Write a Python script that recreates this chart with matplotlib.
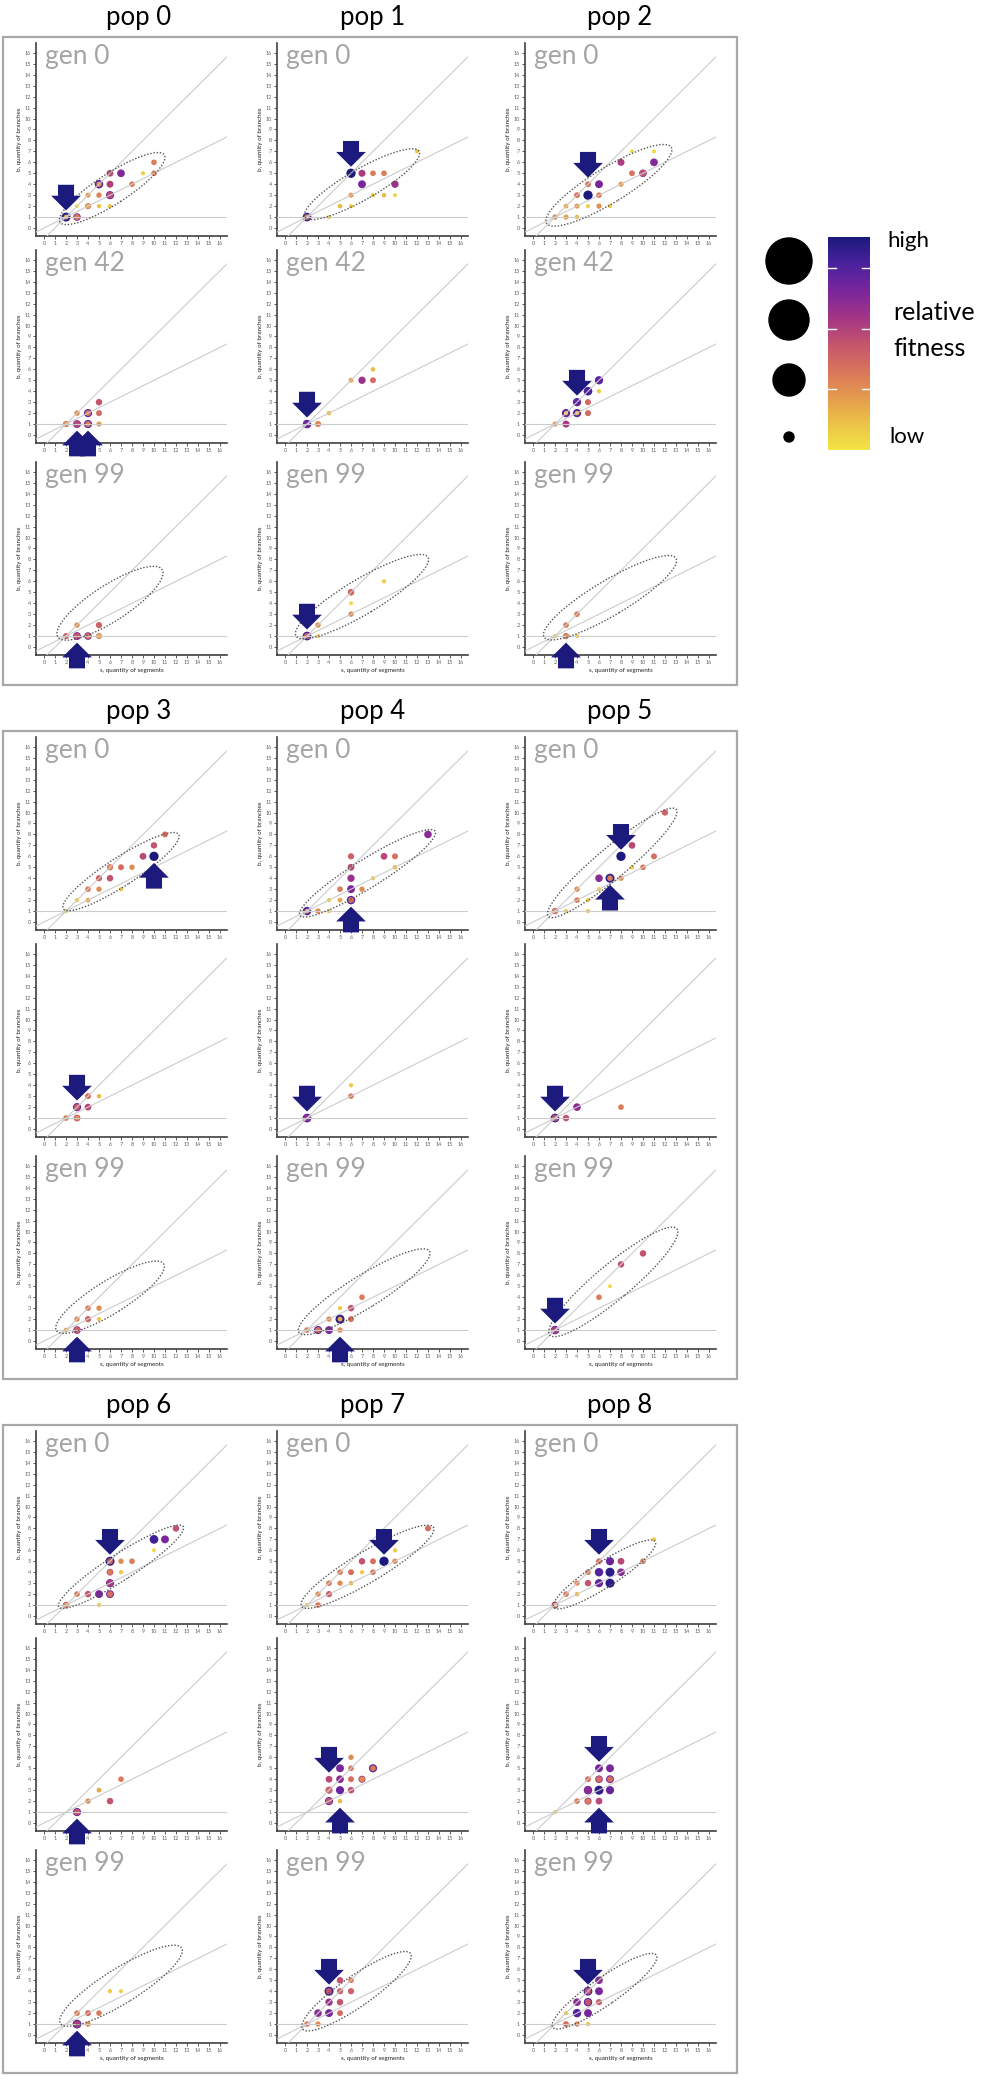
import numpy as np
import matplotlib
import matplotlib.pyplot as plt
from matplotlib.patches import Ellipse, Polygon, Rectangle, Circle
from matplotlib.colors import LinearSegmentedColormap

matplotlib.rcParams['font.family'] = ['Lato', 'DejaVu Sans']

W, H = 986, 2081

gens = [0, 42, 99]

# (s, b, relative fitness) for every individual, rows = gen 0 / 42 / 99
p0_g0 = [(2, 1, .95), (2, 1, .15), (3, 1, .7), (3, 1, .35), (3, 2, .05), (4, 2, .42), (4, 2, .2),
         (4, 3, .25), (5, 2, .12), (5, 3, .32), (5, 4, .85), (5, 4, .3), (6, 2, .1), (6, 3, .8),
         (6, 3, .55), (6, 4, .58), (6, 5, .55), (7, 5, .72), (8, 4, .35), (9, 5, .08), (10, 5, .35),
         (10, 6, .35)]
p0_g42 = [(2, 1, .45), (2, 1, .25), (3, 1, .75), (3, 1, .55), (3, 2, .3), (4, 1, .8), (4, 1, .35),
          (4, 2, .8), (4, 2, .35), (5, 1, .25), (5, 2, .4), (5, 3, .5)]
p0_g99 = [(2, 1, .45), (3, 2, .3), (3, 1, .75), (3, 1, .5), (4, 1, .7), (4, 1, .35), (5, 1, .4),
          (5, 1, .2), (5, 2, .45)]

p1_g0 = [(2, 1, .9), (2, 1, .3), (4, 1, .1), (5, 2, .15), (6, 2, .1), (6, 3, .25), (6, 5, 1.0),
         (7, 5, .6), (8, 5, .35), (9, 5, .35), (7, 4, .75), (8, 3, .1), (9, 3, .15), (10, 4, .65),
         (10, 3, .05), (12, 7, .1)]
p1_g42 = [(2, 1, .85), (2, 1, .78), (3, 1, .42), (3, 1, .3), (4, 2, .15), (6, 5, .22), (7, 5, .65),
          (8, 5, .4), (8, 6, .15)]
p1_g99 = [(2, 1, .9), (2, 1, .45), (3, 1, .08), (3, 2, .3), (6, 3, .3), (6, 4, .05), (6, 5, .5),
          (6, 5, .42), (9, 6, .1)]

p2_g0 = [(2, 1, .3), (3, 1, .25), (4, 1, .15), (3, 2, .2), (4, 2, .25), (5, 2, .08), (6, 2, .28),
         (7, 2, .1), (4, 3, .38), (5, 3, 1.0), (6, 3, .35), (5, 4, .38), (6, 4, .75), (8, 4, .25),
         (9, 5, .38), (10, 5, .7), (10, 5, .5), (8, 6, .6), (11, 6, .72), (9, 7, .05), (11, 7, .05)]
p2_g42 = [(2, 1, .25), (3, 1, .6), (3, 2, .82), (3, 2, .1), (4, 2, .82), (4, 2, .12), (5, 2, .42),
          (4, 3, .82), (5, 3, .42), (5, 4, .88), (6, 4, .1), (6, 5, .82)]
p2_g99 = [(2, 1, .1), (3, 1, .45), (3, 1, .3), (3, 2, .35), (4, 1, .1), (4, 3, .35)]

p3_g0 = [(2, 1, .1), (3, 2, .1), (4, 2, .2), (4, 3, .35), (5, 3, .3), (5, 4, .45), (6, 4, .5),
         (6, 5, .45), (6, 5, .3), (7, 3, .1), (7, 5, .4), (8, 5, .3), (9, 6, .55), (10, 6, 1.0),
         (10, 7, .5), (11, 8, .4)]
p3_g42 = [(2, 1, .35), (3, 1, .55), (3, 1, .3), (3, 2, .8), (3, 2, .5), (4, 2, .55), (4, 3, .4),
          (5, 3, .15)]
p3_g99 = [(2, 1, .2), (3, 1, .7), (3, 1, .45), (3, 2, .3), (4, 2, .45), (4, 3, .35), (5, 3, .3),
          (5, 2, .1)]

p4_g0 = [(2, 1, .85), (2, 1, .15), (3, 1, .3), (4, 1, .1), (4, 2, .1), (5, 3, .35), (5, 2, .2),
         (6, 2, .85), (6, 2, .4), (6, 3, .75), (6, 4, .65), (6, 5, .55), (6, 6, .45), (7, 3, .3),
         (8, 4, .1), (9, 6, .55), (10, 6, .4), (10, 5, .15), (13, 8, .7)]
p4_g42 = [(2, 1, .9), (2, 1, .7), (6, 3, .35), (6, 4, .1)]
p4_g99 = [(2, 1, .35), (3, 1, .8), (3, 1, .4), (4, 1, .75), (4, 2, .3), (5, 1, .3), (5, 2, .95),
          (5, 2, .2), (6, 2, .4), (6, 3, .5), (7, 4, .35), (5, 3, .1)]

p5_g0 = [(2, 1, .5), (2, 1, .3), (3, 1, .1), (4, 2, .35), (4, 3, .3), (5, 1, .1), (5, 2, .1),
         (6, 3, .1), (6, 4, .7), (7, 4, .95), (7, 4, .35), (8, 6, 1.0), (8, 4, .3), (9, 7, .55),
         (9, 5, .1), (10, 5, .35), (11, 6, .4), (12, 10, .45)]
p5_g42 = [(2, 1, .9), (2, 1, .5), (3, 1, .5), (4, 2, .7), (8, 2, .35)]
p5_g99 = [(2, 1, .85), (2, 1, .6), (6, 4, .35), (7, 5, .05), (8, 7, .5), (10, 8, .5)]

p6_g0 = [(2, 1, .5), (2, 1, .3), (3, 2, .35), (4, 2, .5), (5, 2, .75), (5, 1, .1), (6, 2, .75),
         (6, 2, .4), (6, 3, .8), (6, 3, .6), (6, 4, .55), (6, 4, .35), (6, 5, .95), (6, 5, .45),
         (7, 4, .1), (7, 5, .3), (8, 5, .35), (10, 7, .9), (11, 7, .75), (12, 8, .5), (10, 6, .05)]
p6_g42 = [(3, 1, .8), (3, 1, .5), (4, 2, .3), (5, 3, .2), (6, 2, .5), (7, 4, .35)]
p6_g99 = [(3, 1, .9), (3, 1, .6), (3, 2, .35), (4, 2, .4), (5, 2, .35), (6, 4, .1), (7, 4, .08),
          (4, 1, .3)]

p7_g0 = [(2, 1, .1), (3, 1, .35), (3, 2, .3), (4, 2, .45), (4, 3, .35), (5, 3, .3), (5, 4, .35),
         (6, 4, .4), (6, 3, .15), (7, 4, .1), (7, 5, .5), (8, 4, .35), (8, 5, .4), (9, 5, 1.0),
         (10, 5, .3), (10, 6, .1), (13, 8, .4)]
p7_g42 = [(4, 2, .8), (4, 2, .5), (4, 3, .6), (4, 3, .4), (4, 4, .55), (5, 2, .15), (5, 3, .8),
          (5, 4, .7), (5, 5, .75), (6, 3, .5), (6, 4, .4), (6, 5, .35), (6, 6, .3), (7, 4, .6),
          (7, 4, .3), (8, 5, .8), (8, 5, .35)]
p7_g99 = [(2, 1, .35), (3, 1, .3), (3, 2, .7), (4, 2, .75), (4, 3, .65), (4, 4, .95), (4, 4, .5),
          (5, 2, .4), (5, 3, .5), (5, 4, .45), (5, 5, .5), (6, 4, .45), (6, 5, .35)]

p8_g0 = [(2, 1, .6), (2, 1, .15), (3, 2, .35), (4, 2, .15), (4, 3, .3), (5, 3, .5), (5, 4, .35),
         (6, 3, .8), (6, 4, .85), (6, 5, .4), (7, 3, .95), (7, 4, .95), (7, 5, .8), (8, 4, .7),
         (8, 5, .55), (10, 5, .35), (11, 7, .1)]
p8_g42 = [(2, 1, .1), (4, 2, .35), (5, 2, .6), (5, 2, .35), (5, 3, .85), (5, 3, .7), (5, 4, .4),
          (6, 2, .55), (6, 3, .95), (6, 4, .7), (6, 4, .4), (6, 5, .75), (7, 3, .8), (7, 4, .75),
          (7, 4, .4), (7, 5, .75)]
p8_g99 = [(3, 1, .4), (3, 2, .1), (4, 1, .3), (4, 2, .85), (4, 3, .7), (5, 2, .75), (5, 3, .85),
          (5, 3, .5), (5, 4, .9), (5, 4, .5), (6, 3, .45), (6, 4, .75), (6, 5, .7), (5, 1, .1)]

# highlighted individuals (s, b, arrow direction)
arrows_p0 = [[(2, 1, 'down')], [(3, 1, 'up'), (4, 1, 'up')], [(3, 1, 'up')]]
arrows_p1 = [[(6, 5, 'down')], [(2, 1, 'down')], [(2, 1, 'down')]]
arrows_p2 = [[(5, 4, 'down')], [(4, 3, 'down')], [(3, 1, 'up')]]
arrows_p3 = [[(10, 6, 'up')], [(3, 2, 'down')], [(3, 1, 'up')]]
arrows_p4 = [[(6, 2, 'up')], [(2, 1, 'down')], [(5, 1, 'up')]]
arrows_p5 = [[(8, 6, 'down'), (7, 4, 'up')], [(2, 1, 'down')], [(2, 1, 'down')]]
arrows_p6 = [[(6, 5, 'down')], [(3, 1, 'up')], [(3, 1, 'up')]]
arrows_p7 = [[(9, 5, 'down')], [(4, 4, 'down'), (5, 2, 'up')], [(4, 4, 'down')]]
arrows_p8 = [[(6, 5, 'down')], [(6, 5, 'down'), (6, 2, 'up')], [(5, 4, 'down')]]

# population spread ellipses (centre s, centre b, length, width, angle)
ell_p0 = [(6.2, 3.6, 11.3, 2.8, 33), None, (6.0, 4.0, 11.3, 3.3, 33)]
ell_p1 = [(7.0, 4.0, 12.0, 2.8, 30), None, (7.0, 4.6, 14.0, 3.2, 31)]
ell_p2 = [(6.9, 3.9, 13.3, 3.2, 31.5), None, (7.0, 4.5, 14.0, 3.2, 31)]
ell_p3 = [(7.0, 4.6, 12.5, 2.6, 33), None, (6.0, 4.0, 11.5, 3.0, 32)]
ell_p4 = [(7.5, 4.45, 14.5, 2.6, 32), None, (7.2, 4.5, 14.0, 3.0, 32)]
ell_p5 = [(7.2, 5.4, 15.2, 2.8, 40), None, (7.3, 5.4, 15.1, 3.2, 40)]
ell_p6 = [(7.0, 4.5, 13.5, 2.4, 33), None, (7.0, 4.5, 13.0, 3.2, 32)]
ell_p7 = [(7.5, 4.5, 14.0, 2.8, 31), None, (6.5, 4.0, 12.0, 2.8, 35)]
ell_p8 = [(6.5, 3.8, 11.0, 2.3, 33), None, (6.5, 4.0, 11.5, 2.5, 35)]

pops = [
    ([p0_g0, p0_g42, p0_g99], arrows_p0, ell_p0),
    ([p1_g0, p1_g42, p1_g99], arrows_p1, ell_p1),
    ([p2_g0, p2_g42, p2_g99], arrows_p2, ell_p2),
    ([p3_g0, p3_g42, p3_g99], arrows_p3, ell_p3),
    ([p4_g0, p4_g42, p4_g99], arrows_p4, ell_p4),
    ([p5_g0, p5_g42, p5_g99], arrows_p5, ell_p5),
    ([p6_g0, p6_g42, p6_g99], arrows_p6, ell_p6),
    ([p7_g0, p7_g42, p7_g99], arrows_p7, ell_p7),
    ([p8_g0, p8_g42, p8_g99], arrows_p8, ell_p8),
]

cmap = LinearSegmentedColormap.from_list('fit', ['#f3e545', '#ecc247', '#e59a4e', '#d9745c', '#c4546e',
                                                 '#a33586', '#7a269d', '#4a229e', '#1c1a7c'])
navy = '#1c1a7c'

fig = plt.figure(figsize=(W / 100, H / 100), dpi=100)
bg = fig.add_axes([0, 0, 1, 1], zorder=0)
bg.set_xlim(0, W)
bg.set_ylim(H, 0)
bg.axis('off')


def px_axes(x, y, w, h, **kw):
    return fig.add_axes([x / W, 1 - (y + h) / H, w / W, h / H], **kw)


def draw_arrow(ax, s, b, d):
    sign = -1 if d == 'down' else 1
    tip = b - sign * 0.6
    base = tip - sign * 1.35
    end = tip - sign * 2.35
    verts = [(s, tip), (s - 1.35, base), (s - 0.73, base), (s - 0.73, end),
             (s + 0.73, end), (s + 0.73, base), (s + 1.35, base)]
    ax.add_patch(Polygon(verts, closed=True, fc=navy, ec='none', zorder=6, clip_on=False))


col_x = [36, 277, 525]
row_bottom = [236, 443, 655]
title_x = [139, 373, 620]
group_dy = 694
ax_w, ax_h = 191, 193
sline = np.array([-2, 18])

for g in range(3):
    dy = g * group_dy
    bg.add_patch(Rectangle((3, 37 + dy), 734, 648, fill=False, ec='#a8a8a8', lw=1.6))
    for c in range(3):
        i = g * 3 + c
        bg.text(title_x[c], 17 + dy, f'pop {i}', fontsize=18.5, ha='center', va='center')
        rows, arrows, ells = pops[i]
        for r in range(3):
            ax = px_axes(col_x[c], row_bottom[r] + dy - ax_h, ax_w, ax_h, zorder=2)
            ax.set_xlim(-0.73, 16.64)
            ax.set_ylim(-0.73, 16.9)
            for sp in ['top', 'right']:
                ax.spines[sp].set_visible(False)
            for sp in ['left', 'bottom']:
                ax.spines[sp].set_color('#404040')
                ax.spines[sp].set_linewidth(1.2)
            ax.set_xticks(range(17))
            ax.set_yticks(range(17))
            ax.tick_params(labelsize=4, length=2, width=0.6, colors='#404040',
                           labelcolor='#606060', pad=1.5)
            ax.set_ylabel('b, quantity of branches', fontsize=4.5, labelpad=2, color='#222222')
            if r == 2:
                ax.set_xlabel('s, quantity of segments', fontsize=4.5, labelpad=2, color='#222222')
            ax.patch.set_alpha(0)

            pts = sorted(rows[r], key=lambda p: -p[2])
            s = [p[0] for p in pts]
            b = [p[1] for p in pts]
            f = np.array([p[2] for p in pts])
            size = (0.72 * (3.7 + 5.6 * f)) ** 2
            ax.scatter(s, b, s=size, c=cmap(f), edgecolors='none', zorder=2)

            ax.plot(sline, sline - 1, color='#cccccc', lw=0.8, zorder=3)
            ax.plot(sline, sline / 2, color='#cccccc', lw=0.8, zorder=3)
            ax.plot(sline, [1, 1], color='#cccccc', lw=0.8, zorder=3)

            if ells[r] is not None:
                cx, cy, L, Wd, ang = ells[r]
                ax.add_patch(Ellipse((cx, cy), L, Wd, angle=ang, fill=False, ec='#555555',
                                     lw=1.0, ls=(0, (1, 1.3)), zorder=4))
            for a in arrows[r]:
                draw_arrow(ax, *a)
            if g == 0 or r != 1:
                ax.text(0.1, 16.8, f'gen {gens[r]}', fontsize=19, color='#a5a5a5',
                        ha='left', va='top', zorder=1)

# legend: dot size and colour scale
for y, rad in zip([261, 320, 380, 437], [23, 20, 16, 5]):
    bg.add_patch(Circle((789, y), rad, color='black'))

cax = px_axes(828, 237, 42, 213, zorder=2)
cax.imshow(np.linspace(1, 0, 256)[:, None], aspect='auto', cmap=cmap, extent=(0, 1, 0, 1))
for fr in [0.854, 0.568, 0.286]:
    cax.plot([0, 0.2], [fr, fr], color='white', lw=1)
    cax.plot([0.8, 1], [fr, fr], color='white', lw=1)
cax.set_xlim(0, 1)
cax.set_ylim(0, 1)
cax.set_xticks([])
cax.set_yticks([])
for sp in cax.spines.values():
    sp.set_visible(False)

bg.text(887, 241, 'high', fontsize=16, va='center', ha='left')
bg.text(893, 313, 'relative', fontsize=18, va='center', ha='left')
bg.text(893, 348, 'fitness', fontsize=18, va='center', ha='left')
bg.text(889, 437, 'low', fontsize=16, va='center', ha='left')

fig.savefig('out.png', dpi=100)
